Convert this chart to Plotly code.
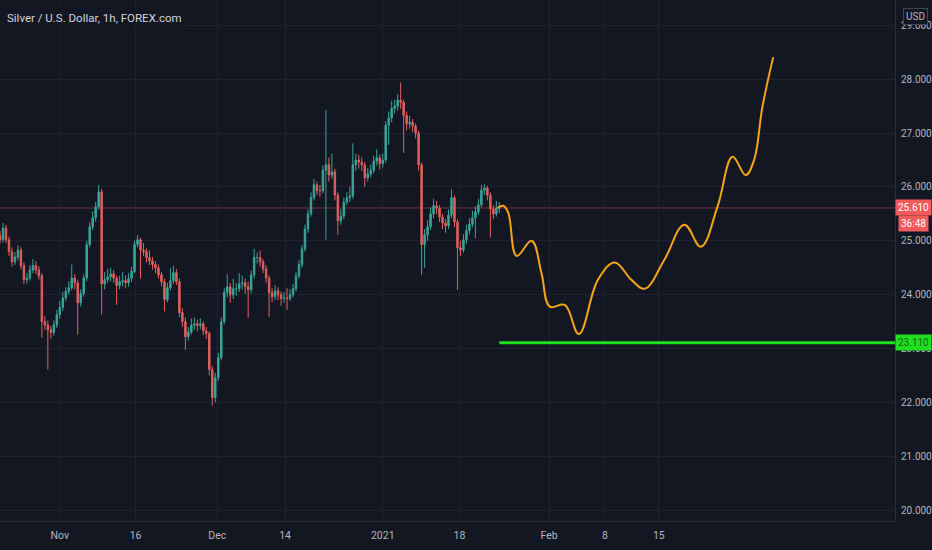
import plotly.graph_objects as go

# ---- data ----
first_open = 25.10
close = [25.02, 25.24, 25.02, 24.80, 24.61, 24.70, 24.83, 24.54, 24.28, 24.31,
         24.46, 24.54, 24.46, 24.35, 23.50, 23.44, 23.35, 23.30, 23.44, 23.63,
         23.76, 23.94, 24.06, 24.13, 24.31, 24.22, 23.85, 24.02, 24.31, 24.93,
         25.26, 25.43, 25.63, 25.91, 24.20, 24.28, 24.33, 24.39, 24.31, 24.17,
         24.24, 24.26, 24.22, 24.30, 24.43, 24.93, 25.02, 24.83, 24.80, 24.69,
         24.63, 24.56, 24.50, 24.37, 24.24, 23.91, 24.13, 24.26, 24.41, 24.24,
         23.67, 23.50, 23.22, 23.31, 23.44, 23.46, 23.43, 23.46, 23.33, 23.28,
         22.61, 22.09, 22.46, 22.83, 23.50, 24.04, 24.15, 24.00, 24.11, 24.11,
         24.20, 24.22, 24.15, 24.09, 24.37, 24.69, 24.69, 24.61, 24.48, 24.31,
         24.04, 23.96, 24.07, 24.00, 23.93, 23.94, 23.93, 24.00, 24.11, 24.35,
         24.56, 24.85, 25.22, 25.50, 25.80, 26.04, 25.93, 25.93, 26.31, 26.41,
         26.22, 26.28, 25.85, 25.37, 25.46, 25.72, 25.80, 25.83, 26.41, 26.50,
         26.46, 26.41, 26.17, 26.24, 26.31, 26.48, 26.54, 26.43, 26.50, 27.15,
         27.28, 27.46, 27.50, 27.61, 27.57, 27.33, 27.17, 27.20, 27.13, 27.00,
         26.41, 24.93, 25.11, 25.26, 25.50, 25.65, 25.61, 25.44, 25.33, 25.28,
         25.48, 25.80, 25.35, 24.87, 24.83, 25.02, 25.19, 25.31, 25.43, 25.54,
         25.67, 25.94, 25.98, 25.85, 25.59, 25.50, 25.61, 25.61]
high = [25.18, 25.33, 25.30, 25.08, 24.88, 24.79, 24.92, 24.88, 24.60, 24.40,
        24.55, 24.66, 24.62, 24.53, 24.40, 23.60, 23.52, 23.42, 23.52, 23.72,
        23.88, 24.05, 24.14, 24.25, 24.56, 24.38, 24.28, 24.10, 24.38, 25.00,
        25.34, 25.55, 25.72, 26.04, 25.96, 24.42, 24.48, 24.50, 24.46, 24.36,
        24.35, 24.42, 24.36, 24.40, 24.52, 25.00, 25.11, 25.06, 24.96, 24.86,
        24.82, 24.70, 24.62, 24.56, 24.42, 24.30, 24.22, 24.50, 24.54, 24.48,
        24.30, 23.75, 23.58, 23.40, 23.56, 23.58, 23.54, 23.56, 23.50, 23.40,
        23.32, 22.68, 22.55, 22.92, 23.58, 24.12, 24.38, 24.22, 24.30, 24.22,
        24.40, 24.36, 24.30, 24.24, 24.45, 24.85, 24.78, 24.82, 24.66, 24.55,
        24.36, 24.12, 24.18, 24.14, 24.06, 24.05, 24.12, 24.10, 24.20, 24.42,
        24.64, 24.92, 25.30, 25.58, 25.90, 26.15, 26.10, 26.04, 26.40, 27.43,
        26.55, 26.62, 26.34, 25.90, 25.58, 25.80, 25.90, 26.00, 26.81, 26.62,
        26.60, 26.55, 26.46, 26.35, 26.42, 26.58, 26.70, 26.60, 26.62, 27.22,
        27.40, 27.60, 27.62, 27.72, 27.94, 27.62, 27.40, 27.32, 27.26, 27.18,
        27.04, 26.45, 25.22, 25.38, 25.62, 25.78, 25.74, 25.66, 25.50, 25.40,
        25.58, 25.96, 25.84, 25.40, 25.00, 25.12, 25.30, 25.42, 25.56, 25.64,
        25.78, 26.04, 26.05, 26.02, 25.90, 25.66, 25.74, 25.72]
low = [24.95, 24.97, 24.96, 24.72, 24.52, 24.55, 24.64, 24.47, 24.20, 24.21,
       24.26, 24.40, 24.38, 24.28, 23.20, 23.35, 22.61, 23.18, 23.24, 23.38,
       23.55, 23.70, 23.88, 24.00, 24.08, 24.10, 23.26, 23.78, 23.96, 24.25,
       24.88, 25.20, 25.36, 25.58, 23.63, 24.10, 24.22, 24.25, 24.22, 23.81,
       24.10, 24.15, 24.12, 24.15, 24.24, 24.40, 24.88, 24.30, 24.72, 24.60,
       24.55, 24.46, 24.40, 24.30, 24.16, 23.69, 23.86, 24.08, 24.20, 24.18,
       23.58, 23.40, 22.98, 23.15, 23.26, 23.35, 23.32, 23.36, 23.25, 23.18,
       22.50, 21.94, 22.00, 22.40, 22.78, 23.45, 23.95, 23.85, 23.92, 23.98,
       24.05, 24.10, 24.02, 23.57, 24.02, 24.30, 24.58, 24.52, 24.40, 24.22,
       23.59, 23.86, 23.90, 23.90, 23.80, 23.85, 23.72, 23.88, 23.95, 24.06,
       24.30, 24.50, 24.80, 25.15, 25.45, 25.75, 25.85, 25.82, 25.88, 25.02,
       26.10, 26.15, 25.75, 25.11, 25.30, 25.40, 25.66, 25.72, 25.78, 26.30,
       26.34, 26.30, 26.00, 26.10, 26.18, 26.25, 26.40, 26.32, 26.36, 26.45,
       26.78, 27.20, 27.36, 27.42, 27.45, 26.63, 27.05, 27.08, 27.02, 26.90,
       26.30, 24.37, 24.50, 25.00, 25.20, 25.42, 25.50, 25.35, 25.22, 25.15,
       25.22, 25.42, 25.25, 24.09, 24.72, 24.78, 24.95, 25.12, 25.25, 25.05,
       25.48, 25.62, 25.85, 25.75, 25.06, 25.40, 25.45, 25.52]

# forecast path drawn on the chart (bar position, price)
path_x = [166.4, 168.3, 170.0, 172.8, 177.8, 181.1, 183.9, 188.9, 193.6, 200.0,
          205.6, 211.1, 215.6, 222.2, 228.9, 234.4, 240.0, 245.0, 249.4, 252.2,
          255.0, 258.6]
path_y = [25.61, 25.65, 25.52, 24.72, 25.00, 24.40, 23.78, 23.81, 23.27, 24.28,
          24.60, 24.28, 24.11, 24.65, 25.30, 24.89, 25.64, 26.56, 26.22, 26.50,
          27.49, 28.41]

support_level = 23.11
countdown = "36:48"
title = "Silver / U.S. Dollar, 1h, FOREX.com"

x_tick_vals = [20, 45.33, 72.67, 95.33, 128, 153.67, 183.67, 202.33, 220.33]
x_tick_text = ["Nov", "16", "Dec", "14", "2021", "18", "Feb", "8", "15"]
y_tick_vals = [20, 21, 22, 23, 24, 25, 26, 27, 28, 29]

x_range = [0, 299.33]
y_range = [19.80, 29.47]

# ---- build ----
opens = [first_open] + close[:-1]
bars = list(range(len(close)))
last = close[-1]

BG = "#131722"
GRID = "#1f2330"
TXT = "#b2b5be"
FONT = "Roboto, Arial, sans-serif"

fig = go.Figure()
fig.add_trace(go.Candlestick(
    x=bars, open=opens, high=high, low=low, close=close,
    increasing=dict(line=dict(color="#3aa598", width=1), fillcolor="#3aa598"),
    decreasing=dict(line=dict(color="#e0605d", width=1), fillcolor="#e0605d"),
    whiskerwidth=0, showlegend=False, hoverinfo="skip",
))
fig.add_trace(go.Scatter(
    x=path_x, y=path_y, mode="lines",
    line=dict(color="#f5a31a", width=2, shape="spline", smoothing=1.1),
    showlegend=False, hoverinfo="skip",
))

# current price line
fig.add_shape(type="line", xref="paper", x0=0, x1=1, yref="y", y0=last, y1=last,
              line=dict(color="rgba(239,83,80,0.45)", width=1), layer="below")
# support line
fig.add_shape(type="line", xref="x", x0=bars[-1], x1=x_range[1], yref="y",
              y0=support_level, y1=support_level,
              line=dict(color="#1fe01f", width=3))

fig.update_layout(
    width=932, height=550,
    margin=dict(l=0, r=34, t=0, b=29),
    paper_bgcolor=BG, plot_bgcolor=BG,
    font=dict(family=FONT, color=TXT, size=11),
    showlegend=False,
    xaxis=dict(range=x_range, rangeslider=dict(visible=False),
               tickvals=x_tick_vals, ticktext=x_tick_text,
               showgrid=True, gridcolor=GRID, gridwidth=1,
               zeroline=False, showline=True, linecolor="#2a2e39", linewidth=1,
               ticks="", ticklabelstandoff=4,
               tickfont=dict(size=10.5, color=TXT), fixedrange=True),
    yaxis=dict(range=y_range, side="right", tickvals=y_tick_vals,
               tickformat=".3f", showgrid=True, gridcolor=GRID, gridwidth=1,
               zeroline=False, showline=True, linecolor="#2a2e39", linewidth=1,
               ticks="", ticklabelstandoff=3,
               tickfont=dict(size=10, color=TXT), fixedrange=True),
)

fig.add_annotation(xref="paper", yref="paper", x=0.004, y=0.985, xanchor="left",
                   yanchor="top", text=title, showarrow=False, bgcolor=BG,
                   font=dict(size=11.5, color="#d1d4dc", family=FONT), borderpad=2)
fig.add_annotation(xref="paper", yref="paper", x=1.009, y=0.984, xanchor="left",
                   yanchor="top", text="USD", showarrow=False, bgcolor=BG,
                   bordercolor="#434651", borderwidth=1, borderpad=2,
                   font=dict(size=10, color=TXT, family=FONT))
fig.add_annotation(xref="paper", yref="y", x=1.0, y=last, xanchor="left",
                   yanchor="middle", text="%.3f" % last, showarrow=False,
                   bgcolor="#f05a5a", borderpad=2,
                   font=dict(size=10, color="#ffffff", family=FONT))
fig.add_annotation(xref="paper", yref="y", x=1.0, y=last, xanchor="left",
                   yanchor="middle", yshift=-16, text=countdown, showarrow=False,
                   bgcolor="#f05a5a", borderpad=2, xshift=3,
                   font=dict(size=10, color="#ffffff", family=FONT))
fig.add_annotation(xref="paper", yref="y", x=1.0, y=support_level, xanchor="left",
                   yanchor="middle", text="%.3f" % support_level, showarrow=False,
                   bgcolor="#1fe01f", borderpad=2,
                   font=dict(size=10, color="#1a5e1a", family=FONT))

fig.write_html("out.html", config={"displayModeBar": False},
               post_script="document.body.style.margin='0';")
